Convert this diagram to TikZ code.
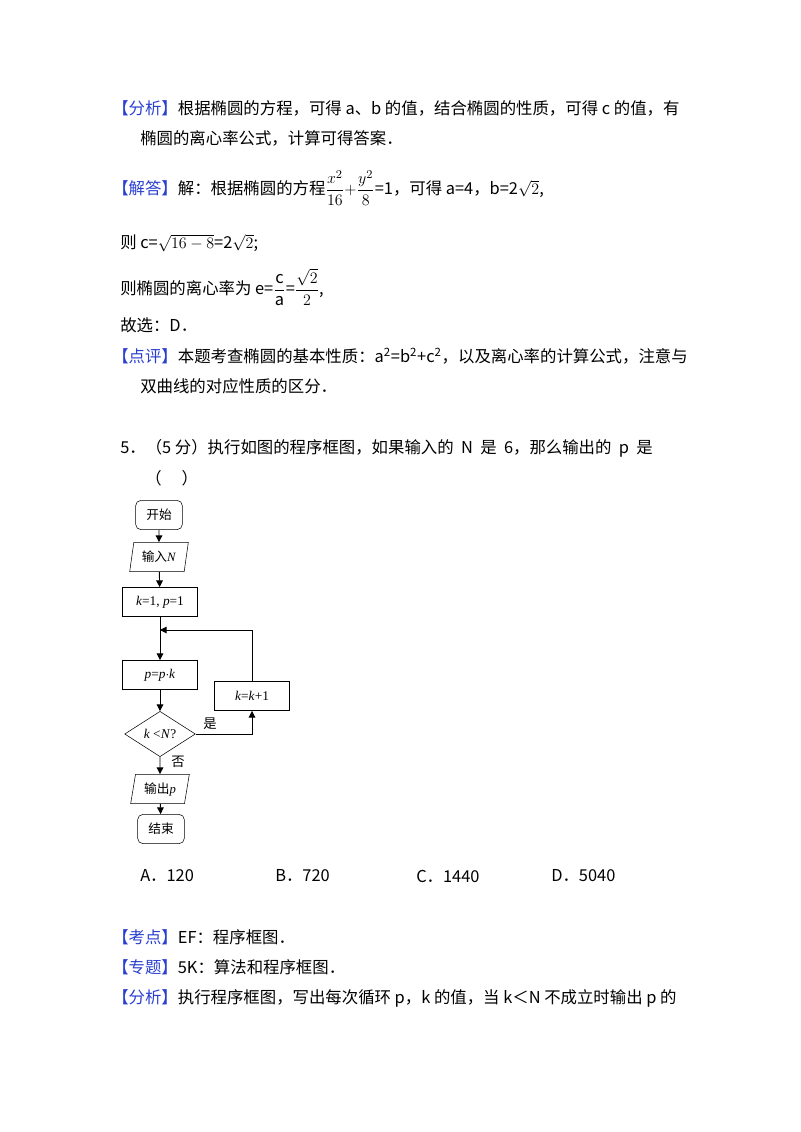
\documentclass[tikz,border=0pt]{standalone}
\usepackage{fontspec}
\usepackage{amsmath}
\setmainfont{Noto Sans CJK SC}
\newfontfamily\tms{Liberation Serif}
\usetikzlibrary{shapes.geometric,arrows.meta}
\definecolor{lb}{HTML}{2A3FD0}
\begin{document}
\begin{tikzpicture}[x=0.75pt,y=-0.75pt,
  tx/.style={anchor=west,inner sep=0pt,font=\fontsize{12.3}{14}\selectfont},
  fbox/.style={draw,minimum width=56pt,minimum height=22pt,inner sep=0pt,font=\tms\fontsize{10}{11}\selectfont},
  rbox/.style={draw,rounded corners=4pt,minimum width=35pt,minimum height=22pt,inner sep=0pt,font=\fontsize{9.5}{11}\selectfont},
  pbox/.style={draw,trapezium,trapezium left angle=78,trapezium right angle=102,trapezium stretches=true,minimum width=44pt,minimum height=22pt,inner sep=1pt,font=\fontsize{9.5}{11}\selectfont},
  dm/.style={draw,diamond,aspect=1.6,minimum width=53pt,minimum height=34pt,inner sep=0pt,font=\tms\fontsize{10}{11}\selectfont},
  ar/.style={-{Triangle[length=5pt,width=5pt]},line width=0.7pt},
  ln/.style={line width=0.7pt}]
\useasboundingbox (0,0) rectangle (800,1132);
\newcommand{\lbl}[1]{\textcolor{lb}{【#1】}}
\node[tx] (t1) at (112,108) {\lbl{分析}根据椭圆的方程，可得 a、b 的值，结合椭圆的性质，可得 c 的值，有};
\node[tx] (t2) at (140,138) {椭圆的离心率公式，计算可得答案．};
\node[tx] (t3) at (112,188) {\lbl{解答}解：根据椭圆的方程$\dfrac{x^2}{16}{+}\dfrac{y^2}{8}$=1，可得 a=4，b=2$\sqrt{2}$,};
\node[tx] (t4) at (120,243) {则 c=$\sqrt{16-8}$=2$\sqrt{2}$;};
\node[tx] (t5) at (120,287) {则椭圆的离心率为 e=$\dfrac{\mathrm c}{\mathrm a}$=$\dfrac{\sqrt2}{2}$,};
\node[tx] (t6) at (120,325) {故选：D．};
\node[tx] (t7) at (112,356) {\lbl{点评}本题考查椭圆的基本性质：a\textsuperscript{2}=b\textsuperscript{2}+c\textsuperscript{2}，以及离心率的计算公式，注意与};
\node[tx] (t8) at (140,386) {双曲线的对应性质的区分．};
\node[tx] (t9) at (120,448) {5．（5 分）执行如图的程序框图，如果输入的\ \ N\ \ 是\ \ 6，那么输出的\ \ p\ \ 是};
\node[tx] (t10) at (145,478) {（\quad\ ）};
% flowchart
\node[rbox] (s) at (159,515) {开始};
\node[pbox] (in) at (159,557) {输入\tms\textit{N}};
\node[fbox] (init) at (160,602) {\textit{k}=1, \textit{p}=1};
\coordinate (j) at (160,630);
\node[fbox] (mul) at (160,675) {\textit{p}=\textit{p}$\cdot$\textit{k}};
\node[fbox] (inc) at (252,696) {\textit{k}=\textit{k}+1};
\node[dm] (d) at (160,734) {\textit{k} <\textit{N}?};
\node[pbox] (out) at (160,789) {输出\tms\textit{p}};
\node[rbox] (e) at (161,829) {结束};
\draw[ar] (s) -- (in);
\draw[ar] (in) -- (init);
\draw[ln] (init) -- (j);
\draw[ar] (j) -- (mul);
\draw[ar] (mul) -- (d);
\draw[ar] (d.east) -| (inc.south);
\draw[ar] (inc.north) |- (j);
\draw[ar] (d) -- (out);
\draw[ar] (out) -- (e);
\node[font=\fontsize{10}{11}\selectfont] (yes) at (210,724) {是};
\node[font=\fontsize{10}{11}\selectfont] (no) at (178,762) {否};
% options
\node[tx] (oa) at (140,876) {A．120};
\node[tx] (ob) at (275,876) {B．720};
\node[tx] (oc) at (416,876) {C．1440};
\node[tx] (od) at (551,876) {D．5040};
\node[tx] (k1) at (112,937) {\lbl{考点}EF：程序框图．};
\node[tx] (k2) at (112,967) {\lbl{专题}5K：算法和程序框图．};
\node[tx] (k3) at (112,998) {\lbl{分析}执行程序框图，写出每次循环 p，k 的值，当 k＜N 不成立时输出 p 的};
\end{tikzpicture}
\end{document}
